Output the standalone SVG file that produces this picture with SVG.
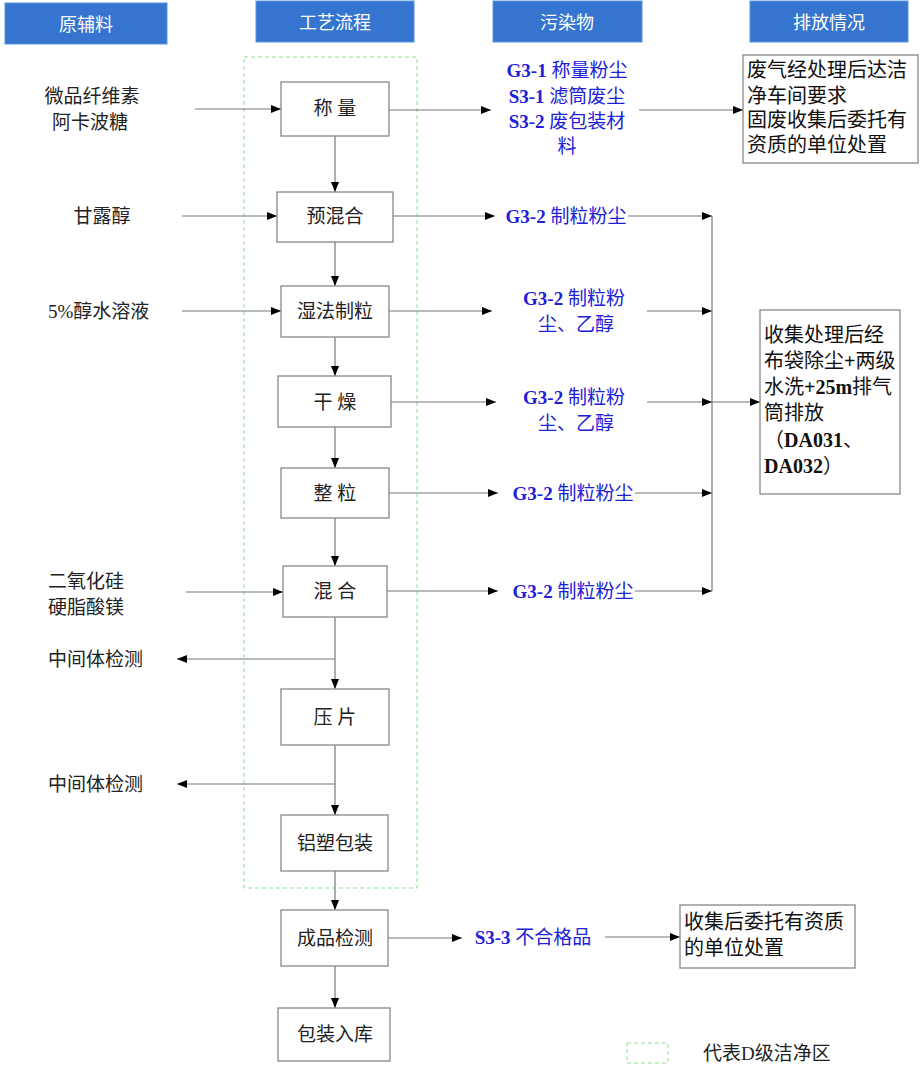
<svg xmlns="http://www.w3.org/2000/svg" width="920" height="1084" viewBox="0 0 920 1084">
<style>
.hdr{fill:#3575cf;stroke:#5a95dc;stroke-width:1}
.ht{font-family:"Noto Sans CJK SC",sans-serif;font-size:18px;fill:#fff;text-anchor:middle;dominant-baseline:central}
.nb{fill:#fff;stroke:#888;stroke-width:1.3}
.nt{font-family:"Liberation Serif","Noto Sans CJK SC",serif;font-size:19px;fill:#222;text-anchor:middle;dominant-baseline:central}
.lt{font-family:"Liberation Serif","Noto Sans CJK SC",serif;font-size:19px;fill:#222;dominant-baseline:central}
.pt{font-family:"Liberation Serif","Noto Sans CJK SC",serif;font-size:19px;fill:#2020d8;text-anchor:middle;dominant-baseline:central}
.bt{font-family:"Liberation Serif","Noto Sans CJK SC",serif;font-size:20px;fill:#111;dominant-baseline:central}
.b{font-weight:bold}
.ln{fill:none;stroke:#777;stroke-width:1.2}
.la{fill:none;stroke:#777;stroke-width:1.2;marker-end:url(#ah)}
.clean{fill:none;stroke:#8fe08f;stroke-width:1;stroke-dasharray:4,3}
</style>
<defs>
<marker id="ah" markerWidth="10" markerHeight="8" refX="10" refY="4" orient="auto" markerUnits="userSpaceOnUse">
<path d="M0,0 L10,4 L0,8 Z" fill="#000"/>
</marker>
</defs>

<g id="headers">
<rect class="hdr" x="5" y="3" width="162" height="41"/><text class="ht" x="86" y="23">原辅料</text>
<rect class="hdr" x="256" y="1" width="158" height="41"/><text class="ht" x="335" y="21">工艺流程</text>
<rect class="hdr" x="493" y="1" width="149" height="41"/><text class="ht" x="567" y="21">污染物</text>
<rect class="hdr" x="750" y="1" width="158" height="41"/><text class="ht" x="829" y="21">排放情况</text>
</g>

<g id="clean-zone"><rect class="clean" x="244" y="57" width="173" height="831"/></g>

<g id="connectors">
<line class="la" x1="195" y1="109" x2="281" y2="109"/>
<line class="la" x1="182" y1="216" x2="277" y2="216"/>
<line class="la" x1="182" y1="311" x2="281" y2="311"/>
<line class="la" x1="186" y1="592" x2="283" y2="592"/>
<line class="la" x1="335" y1="659" x2="177" y2="659"/>
<line class="la" x1="335" y1="784" x2="177" y2="784"/>
<line class="la" x1="335" y1="136" x2="335" y2="192"/>
<line class="la" x1="335" y1="242" x2="335" y2="286"/>
<line class="la" x1="335" y1="337" x2="335" y2="376"/>
<line class="la" x1="335" y1="427" x2="335" y2="468"/>
<line class="la" x1="335" y1="518" x2="335" y2="566"/>
<line class="la" x1="335" y1="617" x2="335" y2="689"/>
<line class="la" x1="335" y1="745" x2="335" y2="815"/>
<line class="la" x1="335" y1="871" x2="335" y2="910"/>
<line class="la" x1="335" y1="966" x2="335" y2="1008"/>
<line class="la" x1="389" y1="110" x2="491" y2="110"/>
<line class="la" x1="639" y1="110" x2="743" y2="110"/>
<line class="la" x1="393" y1="216" x2="495" y2="216"/>
<line class="la" x1="628" y1="216" x2="712" y2="216"/>
<line class="la" x1="389" y1="311" x2="492" y2="311"/>
<line class="la" x1="647" y1="311" x2="712" y2="311"/>
<line class="la" x1="391" y1="402" x2="496" y2="402"/>
<line class="la" x1="647" y1="402" x2="712" y2="402"/>
<line class="la" x1="389" y1="493" x2="498" y2="493"/>
<line class="la" x1="635" y1="493" x2="712" y2="493"/>
<line class="la" x1="387" y1="591" x2="498" y2="591"/>
<line class="la" x1="635" y1="591" x2="712" y2="591"/>
<line class="ln" x1="712" y1="216" x2="712" y2="591"/>
<line class="la" x1="712" y1="402" x2="760" y2="402"/>
<line class="la" x1="388" y1="938" x2="462" y2="938"/>
<line class="la" x1="605" y1="937" x2="680" y2="937"/>
</g>

<g id="inputs">
<text class="lt" x="92" y="96" text-anchor="middle">微品纤维素</text>
<text class="lt" x="90" y="122" text-anchor="middle">阿卡波糖</text>
<text class="lt" x="102" y="216" text-anchor="middle">甘露醇</text>
<text class="lt" x="48" y="311">5%醇水溶液</text>
<text class="lt" x="48" y="581">二氧化硅</text>
<text class="lt" x="48" y="607">硬脂酸镁</text>
<text class="lt" x="48" y="659">中间体检测</text>
<text class="lt" x="48" y="784">中间体检测</text>
</g>

<g id="n-weigh"><rect class="nb" x="281" y="82" width="108" height="54"/><text class="nt" x="335" y="108">称 量</text></g>
<g id="n-premix"><rect class="nb" x="277" y="192" width="116" height="50"/><text class="nt" x="335" y="216">预混合</text></g>
<g id="n-wetgran"><rect class="nb" x="281" y="286" width="108" height="51"/><text class="nt" x="335" y="311">湿法制粒</text></g>
<g id="n-dry"><rect class="nb" x="278" y="376" width="113" height="51"/><text class="nt" x="335" y="402">干 燥</text></g>
<g id="n-size"><rect class="nb" x="281" y="468" width="108" height="50"/><text class="nt" x="335" y="493">整 粒</text></g>
<g id="n-mix"><rect class="nb" x="283" y="566" width="104" height="51"/><text class="nt" x="335" y="591">混 合</text></g>
<g id="n-press"><rect class="nb" x="281" y="689" width="108" height="56"/><text class="nt" x="335" y="717">压 片</text></g>
<g id="n-pack"><rect class="nb" x="281" y="815" width="107" height="56"/><text class="nt" x="335" y="843">铝塑包装</text></g>
<g id="n-qc"><rect class="nb" x="281" y="910" width="107" height="56"/><text class="nt" x="335" y="938">成品检测</text></g>
<g id="n-store"><rect class="nb" x="278" y="1008" width="112" height="53"/><text class="nt" x="335" y="1034">包装入库</text></g>

<g id="pollutants">
<text class="pt" x="567" y="70"><tspan class="b">G3-1</tspan> 称量粉尘</text>
<text class="pt" x="567" y="96"><tspan class="b">S3-1</tspan> 滤筒废尘</text>
<text class="pt" x="567" y="121"><tspan class="b">S3-2</tspan> 废包装材</text>
<text class="pt" x="567" y="146">料</text>
<text class="pt" x="566" y="216"><tspan class="b">G3-2</tspan> 制粒粉尘</text>
<text class="pt" x="574" y="298"><tspan class="b">G3-2</tspan> 制粒粉</text>
<text class="pt" x="576" y="324">尘、乙醇</text>
<text class="pt" x="574" y="397"><tspan class="b">G3-2</tspan> 制粒粉</text>
<text class="pt" x="576" y="423">尘、乙醇</text>
<text class="pt" x="573" y="493"><tspan class="b">G3-2</tspan> 制粒粉尘</text>
<text class="pt" x="573" y="591"><tspan class="b">G3-2</tspan> 制粒粉尘</text>
<text class="pt" x="533" y="937"><tspan class="b">S3-3</tspan> 不合格品</text>
</g>

<g id="d-gas-solid"><rect class="nb" x="743" y="55" width="175" height="108"/>
<text class="bt" x="747" y="70">废气经处理后达洁</text>
<text class="bt" x="747" y="96">净车间要求</text>
<text class="bt" x="747" y="120">固废收集后委托有</text>
<text class="bt" x="747" y="145">资质的单位处置</text>
</g>
<g id="d-gas"><rect class="nb" x="760" y="310" width="140" height="184"/>
<text class="bt" x="764" y="335">收集处理后经</text>
<text class="bt" x="764" y="361">布袋除尘<tspan class="b">+</tspan>两级</text>
<text class="bt" x="764" y="387">水洗<tspan class="b">+25m</tspan>排气</text>
<text class="bt" x="764" y="413">筒排放</text>
<text class="bt" x="764" y="440">（<tspan class="b">DA031</tspan>、</text>
<text class="bt" x="764" y="466"><tspan class="b">DA032</tspan>）</text>
</g>
<g id="d-solid"><rect class="nb" x="680" y="905" width="175" height="63"/>
<text class="bt" x="684" y="922">收集后委托有资质</text>
<text class="bt" x="684" y="948">的单位处置</text>
</g>

<g id="legend">
<rect class="clean" x="627" y="1043" width="41" height="20"/>
<text class="lt" x="703" y="1053">代表D级洁净区</text>
</g>
</svg>
